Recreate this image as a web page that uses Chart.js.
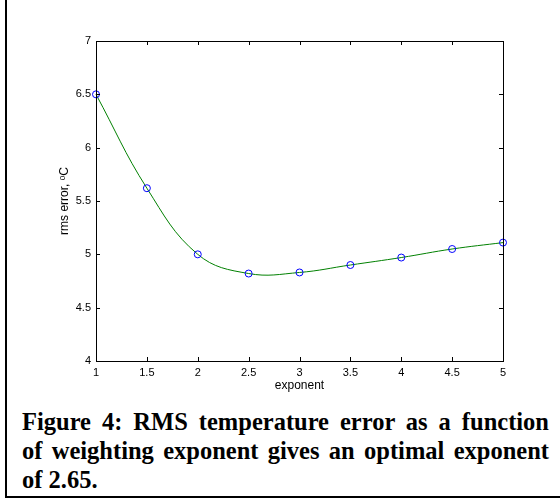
<!DOCTYPE html>
<html>
<head>
<meta charset="utf-8">
<script src="https://cdn.jsdelivr.net/npm/chart.js@4/dist/chart.umd.min.js"></script>
<style>
  body { margin: 0; background: #fff; }
  .page { position: relative; width: 560px; height: 504px; overflow: hidden; }
  .frame { position: absolute; left: 5px; top: -3px; width: 560px; height: 501px;
           border-left: 2px solid #000; border-bottom: 2px solid #000; box-sizing: border-box; }
  #chart { position: absolute; left: 0; top: 0; }
  .caption { position: absolute; left: 22px; top: 407px; width: 527px;
             font-family: "Liberation Serif", "Times New Roman", serif; font-weight: bold;
             font-size: 24.5px; line-height: 29px; color: #000; }
  .caption div { white-space: nowrap; text-align: justify; text-align-last: justify; }
  .caption div.last { text-align-last: left; }
</style>
</head>
<body>
<div class="page">
  <div class="frame"></div>
  <canvas id="chart" width="560" height="400"></canvas>
  <div class="caption">
    <div>Figure 4: RMS temperature error as a function</div>
    <div>of weighting exponent gives an optimal exponent</div>
    <div class="last">of 2.65.</div>
  </div>
</div>
<script>
// exposant de pondération et erreur rms
const exponents = [1, 1.5, 2, 2.5, 3, 3.5, 4, 4.5, 5];
const rmsError = [6.5, 5.62, 5.0, 4.82, 4.83, 4.9, 4.97, 5.05, 5.11];
const xTicks = [1, 1.5, 2, 2.5, 3, 3.5, 4, 4.5, 5];
const yTicks = [4, 4.5, 5, 5.5, 6, 6.5, 7];

// cadre + graduations vers l'intérieur (style matlab)
const boxTicks = {
    id: 'boxTicks',
    afterDatasetsDraw(chart) {
        const { ctx, chartArea: a, scales } = chart;
        ctx.save();
        ctx.strokeStyle = '#000';
        ctx.lineWidth = 1;
        ctx.strokeRect(a.left + 0.5, a.top + 0.5, a.right - a.left, a.bottom - a.top);
        ctx.beginPath();
        xTicks.forEach((v) => {
            const x = Math.round(scales.x.getPixelForValue(v)) + 0.5;
            ctx.moveTo(x, a.bottom); ctx.lineTo(x, a.bottom - 4);
            ctx.moveTo(x, a.top); ctx.lineTo(x, a.top + 4);
        });
        yTicks.forEach((v) => {
            const y = Math.round(scales.y.getPixelForValue(v)) + 0.5;
            ctx.moveTo(a.left, y); ctx.lineTo(a.left + 4, y);
            ctx.moveTo(a.right, y); ctx.lineTo(a.right - 4, y);
        });
        ctx.stroke();
        ctx.restore();
    }
};

const tickFont = { family: 'Liberation Sans, Arial, sans-serif', size: 11 };
const titleFont = { family: 'Liberation Sans, Arial, sans-serif', size: 12 };

new Chart(document.getElementById('chart').getContext('2d'), {
    type: 'line',
    data: {
        datasets: [{
            data: exponents.map((x, i) => ({ x: x, y: rmsError[i] })),
            borderColor: '#008000',
            borderWidth: 1,
            tension: 0.4,
            fill: false,
            pointStyle: 'circle',
            pointRadius: 3.5,
            pointBorderWidth: 1,
            pointBorderColor: '#0000ff',
            pointBackgroundColor: 'rgba(0,0,0,0)',
            clip: false
        }]
    },
    options: {
        responsive: false,
        animation: false,
        layout: { padding: { left: 50, top: 41, right: 57, bottom: 0 } },
        plugins: { legend: { display: false }, tooltip: { enabled: false } },
        scales: {
            x: {
                type: 'linear', min: 1, max: 5,
                afterBuildTicks: (s) => { s.ticks = xTicks.map((v) => ({ value: v })); },
                afterFit: (s) => { s.height = 39; },
                grid: { display: false, drawTicks: false },
                border: { display: false },
                ticks: { color: '#000', font: tickFont, padding: 5, maxRotation: 0,
                         callback: (v) => String(v) },
                title: { display: true, text: 'exponent', color: '#000', font: titleFont,
                         padding: { top: 0, bottom: 7 } }
            },
            y: {
                type: 'linear', min: 4, max: 7,
                afterBuildTicks: (s) => { s.ticks = yTicks.map((v) => ({ value: v })); },
                afterFit: (s) => { s.width = 46; },
                grid: { display: false, drawTicks: false },
                border: { display: false },
                ticks: { color: '#000', font: tickFont, padding: 5, callback: (v) => String(v) },
                title: { display: true, text: 'rms error, ᵒC', color: '#000', font: titleFont,
                         padding: { top: 7, bottom: 0 } }
            }
        }
    },
    plugins: [boxTicks]
});
</script>
</body>
</html>
